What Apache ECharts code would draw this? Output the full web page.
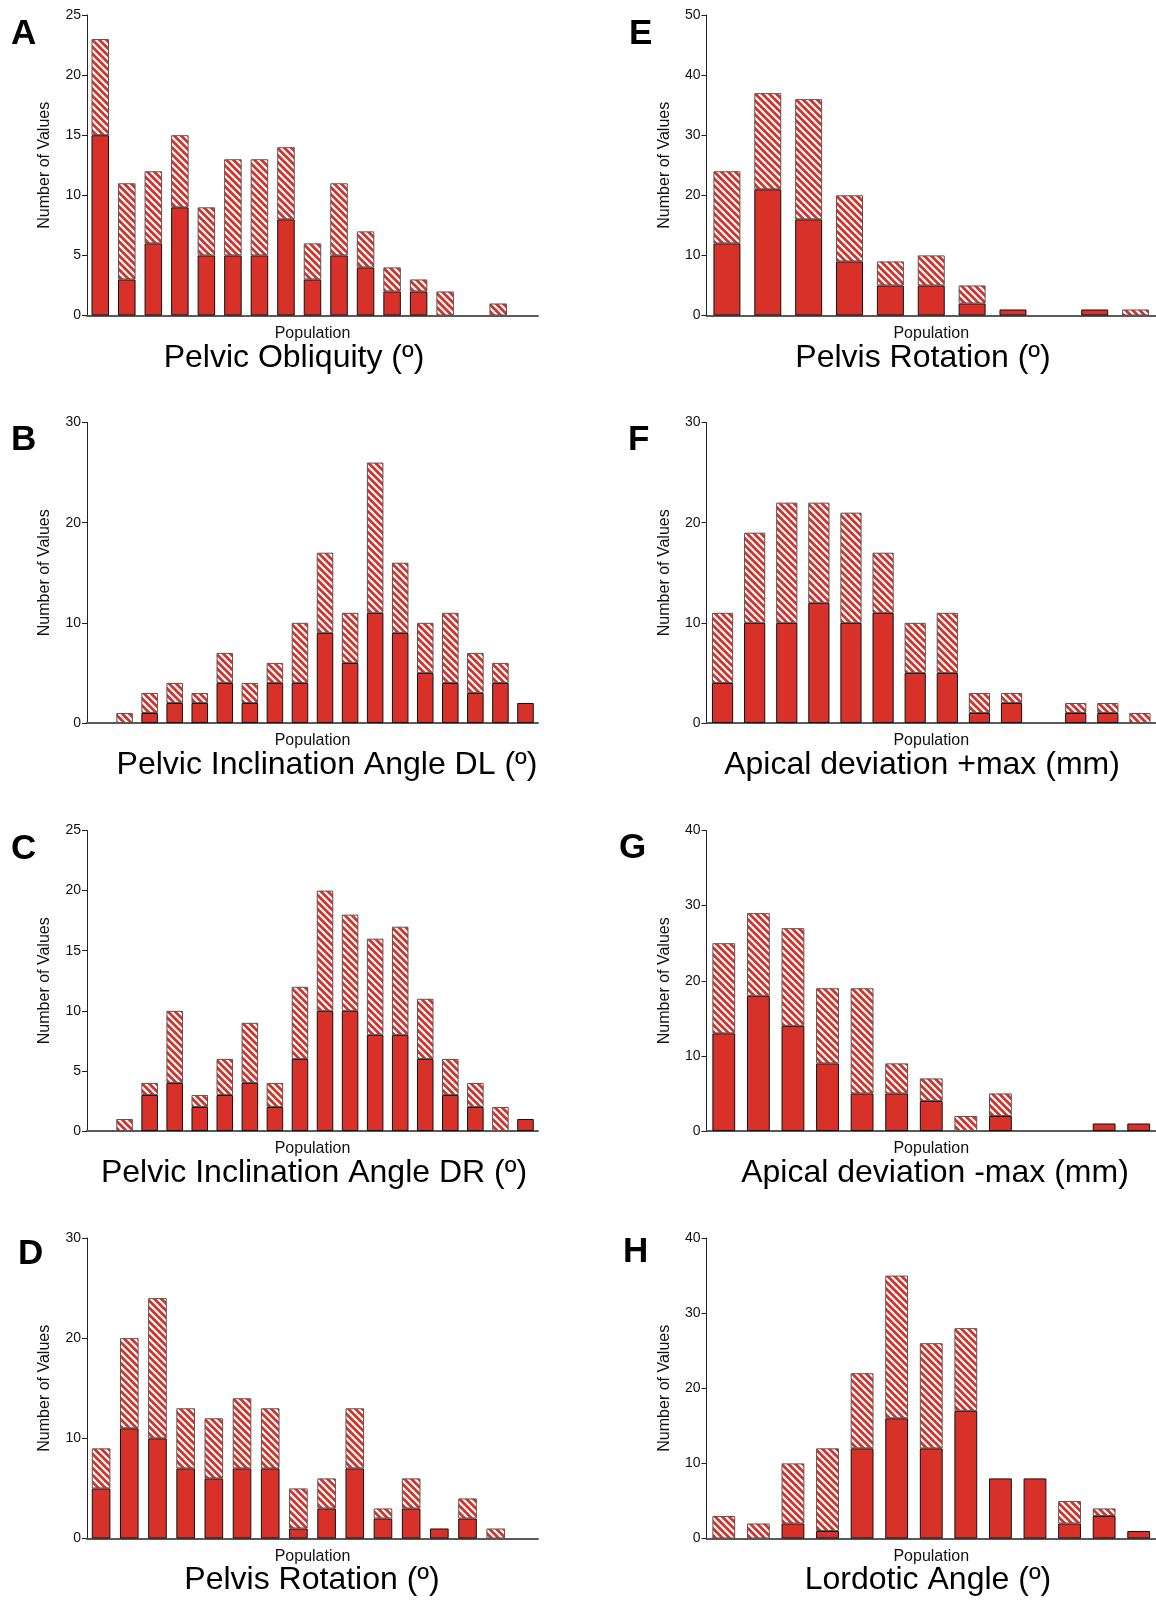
<!DOCTYPE html>
<html>
<head>
<meta charset="utf-8">
<title>Population histograms</title>
<script src="https://cdn.jsdelivr.net/npm/echarts@6/dist/echarts.min.js"></script>
<style>
  html, body { margin: 0; padding: 0; background: #fff; }
  #chart { width: 1156px; height: 1601px; }
</style>
</head>
<body>
<div id="chart"></div>
<script>
// counts per bin: solid part (bottom) and hatched part (stacked on top)
const solidA   = [15, 3, 6, 9, 5, 5, 5, 8, 3, 5, 4, 2, 2, 0, 0, 0, 0];
const hatchedA = [8, 8, 6, 6, 4, 8, 8, 6, 3, 6, 3, 2, 1, 2, 0, 1, 0];

const solidB   = [0, 0, 1, 2, 2, 4, 2, 4, 4, 9, 6, 11, 9, 5, 4, 3, 4, 2];
const hatchedB = [0, 1, 2, 2, 1, 3, 2, 2, 6, 8, 5, 15, 7, 5, 7, 4, 2, 0];

const solidC   = [0, 0, 3, 4, 2, 3, 4, 2, 6, 10, 10, 8, 8, 6, 3, 2, 0, 1];
const hatchedC = [0, 1, 1, 6, 1, 3, 5, 2, 6, 10, 8, 8, 9, 5, 3, 2, 2, 0];

const solidD   = [5, 11, 10, 7, 6, 7, 7, 1, 3, 7, 2, 3, 1, 2, 0, 0];
const hatchedD = [4, 9, 14, 6, 6, 7, 6, 4, 3, 6, 1, 3, 0, 2, 1, 0];

const solidE   = [12, 21, 16, 9, 5, 5, 2, 1, 0, 1, 0];
const hatchedE = [12, 16, 20, 11, 4, 5, 3, 0, 0, 0, 1];

const solidF   = [4, 10, 10, 12, 10, 11, 5, 5, 1, 2, 0, 1, 1, 0];
const hatchedF = [7, 9, 12, 10, 11, 6, 5, 6, 2, 1, 0, 1, 1, 1];

const solidG   = [13, 18, 14, 9, 5, 5, 4, 0, 2, 0, 0, 1, 1];
const hatchedG = [12, 11, 13, 10, 14, 4, 3, 2, 3, 0, 0, 0, 0];

const solidH   = [0, 0, 2, 1, 12, 16, 12, 17, 8, 8, 2, 3, 1];
const hatchedH = [3, 2, 8, 11, 10, 19, 14, 11, 0, 0, 3, 1, 0];

// y axis ranges (max, step)
const yMax  = [25, 30, 25, 30, 50, 30, 40, 40];
const yStep = [5, 10, 5, 10, 10, 10, 10, 10];

const letters = ['A', 'B', 'C', 'D', 'E', 'F', 'G', 'H'];
const titles = [
  'Pelvic Obliquity (º)',
  'Pelvic Inclination Angle DL (º)',
  'Pelvic Inclination Angle DR (º)',
  'Pelvis Rotation (º)',
  'Pelvis Rotation (º)',
  'Apical deviation +max (mm)',
  'Apical deviation -max (mm)',
  'Lordotic Angle (º)'
];
const xName = 'Population';
const yName = 'Number of Values';

const solids   = [solidA, solidB, solidC, solidD, solidE, solidF, solidG, solidH];
const hatcheds = [hatchedA, hatchedB, hatchedC, hatchedD, hatchedE, hatchedF, hatchedG, hatchedH];

// layout (px)
const colLeft  = [87, 706.5];
const colWidth = [451, 450];
const rowTop   = [15, 422.5, 830.5, 1238];
const plotH    = 300.5;
const titlePos  = [[294, 358], [327, 765], [314, 1173], [312, 1580],
                   [923, 358], [922, 765], [935, 1173], [928, 1580]];
const letterPos = [[11, 34], [11, 440], [11, 849], [18, 1254],
                   [629, 34], [628, 440], [619, 848], [623, 1252]];

const RED = '#d7312a';
const FONT = '"Liberation Sans", Arial, Helvetica, sans-serif';

// red with white "\" stripes
function makeHatch() {
  const s = 7;
  const c = document.createElement('canvas');
  c.width = s; c.height = s;
  const ctx = c.getContext('2d');
  ctx.fillStyle = RED;
  ctx.fillRect(0, 0, s, s);
  ctx.strokeStyle = '#ffffff';
  ctx.lineWidth = 2.2;
  ctx.beginPath();
  for (let k = -1; k <= 1; k++) {
    ctx.moveTo(k * s - 1, -1);
    ctx.lineTo(k * s + s + 1, s + 1);
  }
  ctx.stroke();
  return c;
}
const hatch = { image: makeHatch(), repeat: 'repeat' };

const grids = [], xAxes = [], yAxes = [], series = [], graphics = [];

for (let i = 0; i < 8; i++) {
  const col = i < 4 ? 0 : 1;
  const row = i % 4;
  const cats = solids[i].map((_, k) => 'bin' + (k + 1));

  grids.push({ left: colLeft[col], top: rowTop[row], width: colWidth[col], height: plotH });

  xAxes.push({
    type: 'category', gridIndex: i, data: cats,
    axisLine: { lineStyle: { color: '#5a5a5a', width: 2 } },
    axisTick: { show: false },
    axisLabel: { show: false },
    name: xName, nameLocation: 'middle', nameGap: 10,
    nameTextStyle: { fontSize: 16, color: '#111', fontFamily: FONT }
  });

  yAxes.push({
    type: 'value', gridIndex: i, min: 0, max: yMax[i], interval: yStep[i],
    axisLine: { show: true, lineStyle: { color: '#222', width: 1 } },
    axisTick: { show: true, length: 5, lineStyle: { color: '#222' } },
    axisLabel: { fontSize: 14, color: '#111', margin: 6, fontFamily: FONT },
    splitLine: { show: false },
    name: yName, nameLocation: 'middle', nameGap: 34,
    nameTextStyle: { fontSize: 16, color: '#111', fontFamily: FONT }
  });

  series.push({
    type: 'bar', xAxisIndex: i, yAxisIndex: i, stack: 's' + i,
    barCategoryGap: '34%',
    data: solids[i].map(v => v || null),
    itemStyle: { color: RED, borderColor: '#111', borderWidth: 1 }
  });
  series.push({
    type: 'bar', xAxisIndex: i, yAxisIndex: i, stack: 's' + i,
    data: hatcheds[i].map(v => v || null),
    itemStyle: { color: hatch, borderColor: '#555', borderWidth: 1 }
  });

  graphics.push({
    type: 'text', x: titlePos[i][0], y: titlePos[i][1],
    style: { text: titles[i], fontSize: 32, fontFamily: FONT, fill: '#000',
             align: 'center', verticalAlign: 'middle' }
  });
  graphics.push({
    type: 'text', x: letterPos[i][0], y: letterPos[i][1],
    style: { text: letters[i], fontSize: 35, fontWeight: 'bold', fontFamily: FONT, fill: '#000',
             align: 'left', verticalAlign: 'middle' }
  });
}

const myChart = echarts.init(document.getElementById('chart'), null, { renderer: 'canvas' });
myChart.setOption({
  animation: false,
  backgroundColor: '#fff',
  grid: grids,
  xAxis: xAxes,
  yAxis: yAxes,
  series: series,
  graphic: graphics
});
</script>
</body>
</html>
